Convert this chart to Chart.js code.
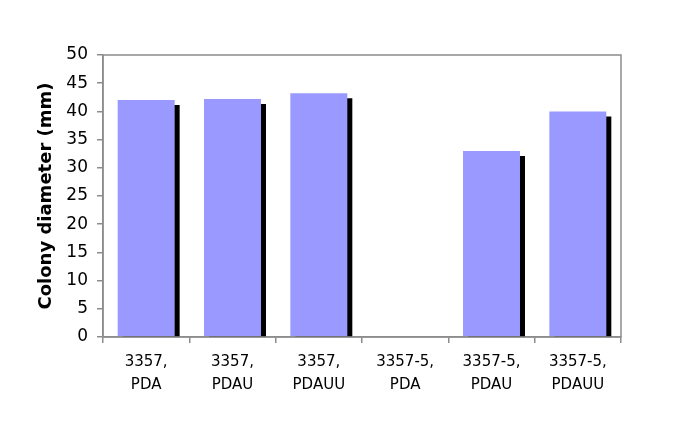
<!DOCTYPE html>
<html>
<head>
<meta charset="utf-8">
<script src="https://cdn.jsdelivr.net/npm/chart.js@4"></script>
<style>
  html, body { margin: 0; padding: 0; background: #fff; }
  #wrap { width: 685px; height: 428px; }
</style>
</head>
<body>
<div id="wrap"><canvas id="c" width="685" height="428"></canvas></div>
<script>
// --- data
const categories = [['3357,', 'PDA'], ['3357,', 'PDAU'], ['3357,', 'PDAUU'], ['3357-5,', 'PDA'], ['3357-5,', 'PDAU'], ['3357-5,', 'PDAUU']];
const diameters = [42, 42.2, 43.2, 0, 33, 40];
const yTicks = [0, 5, 10, 15, 20, 25, 30, 35, 40, 45, 50];

const GREY = '#8c8c8c';

// black drop shadow behind the bars, plus the grey frame round the plot
const shadowAndFrame = {
  id: 'shadowAndFrame',
  beforeDatasetDraw(chart) {
    const ctx = chart.ctx;
    ctx.save();
    ctx.shadowColor = '#000';
    ctx.shadowOffsetX = 5;
    ctx.shadowOffsetY = 5;
    ctx.shadowBlur = 0;
  },
  afterDatasetDraw(chart) {
    chart.ctx.restore();
  },
  afterDraw(chart) {
    const { ctx, chartArea: a } = chart;
    ctx.save();
    ctx.strokeStyle = GREY;
    ctx.lineWidth = 1.5;
    ctx.strokeRect(a.left, a.top, a.right - a.left, a.bottom - a.top);
    ctx.restore();
  }
};

new Chart(document.getElementById('c').getContext('2d'), {
  type: 'bar',
  data: {
    labels: categories,
    datasets: [{
      data: diameters,
      backgroundColor: '#9999ff',
      borderWidth: 0,
      barPercentage: 0.66,
      categoryPercentage: 1
    }]
  },
  options: {
    responsive: false,
    animation: false,
    layout: { padding: { top: 55, right: 64, bottom: 0, left: 0 } },
    plugins: { legend: { display: false }, tooltip: { enabled: false } },
    scales: {
      x: {
        offset: true,
        grid: { offset: true, drawOnChartArea: false, drawTicks: true, tickLength: 6, color: GREY, lineWidth: 1.5 },
        border: { color: GREY, width: 1.5 },
        ticks: { color: '#000', font: { family: 'DejaVu Sans', size: 15, lineHeight: 1.53 }, padding: 8, maxRotation: 0, autoSkip: false },
        afterFit(s) { s.height = 91; }
      },
      y: {
        min: 0,
        max: 50,
        afterBuildTicks(s) { s.ticks = yTicks.map(v => ({ value: v })); },
        grid: { drawOnChartArea: false, drawTicks: true, tickLength: 6, color: GREY, lineWidth: 1.5 },
        border: { color: GREY, width: 1.5 },
        ticks: { color: '#000', font: { family: 'DejaVu Sans', size: 17 }, padding: 9 },
        title: {
          display: true,
          text: 'Colony diameter (mm)',
          color: '#000',
          font: { family: 'DejaVu Sans', size: 18, weight: 'bold' },
          padding: { top: 36, bottom: 0 }
        },
        afterFit(s) { s.width = 103; }
      }
    }
  },
  plugins: [shadowAndFrame]
});
</script>
</body>
</html>
